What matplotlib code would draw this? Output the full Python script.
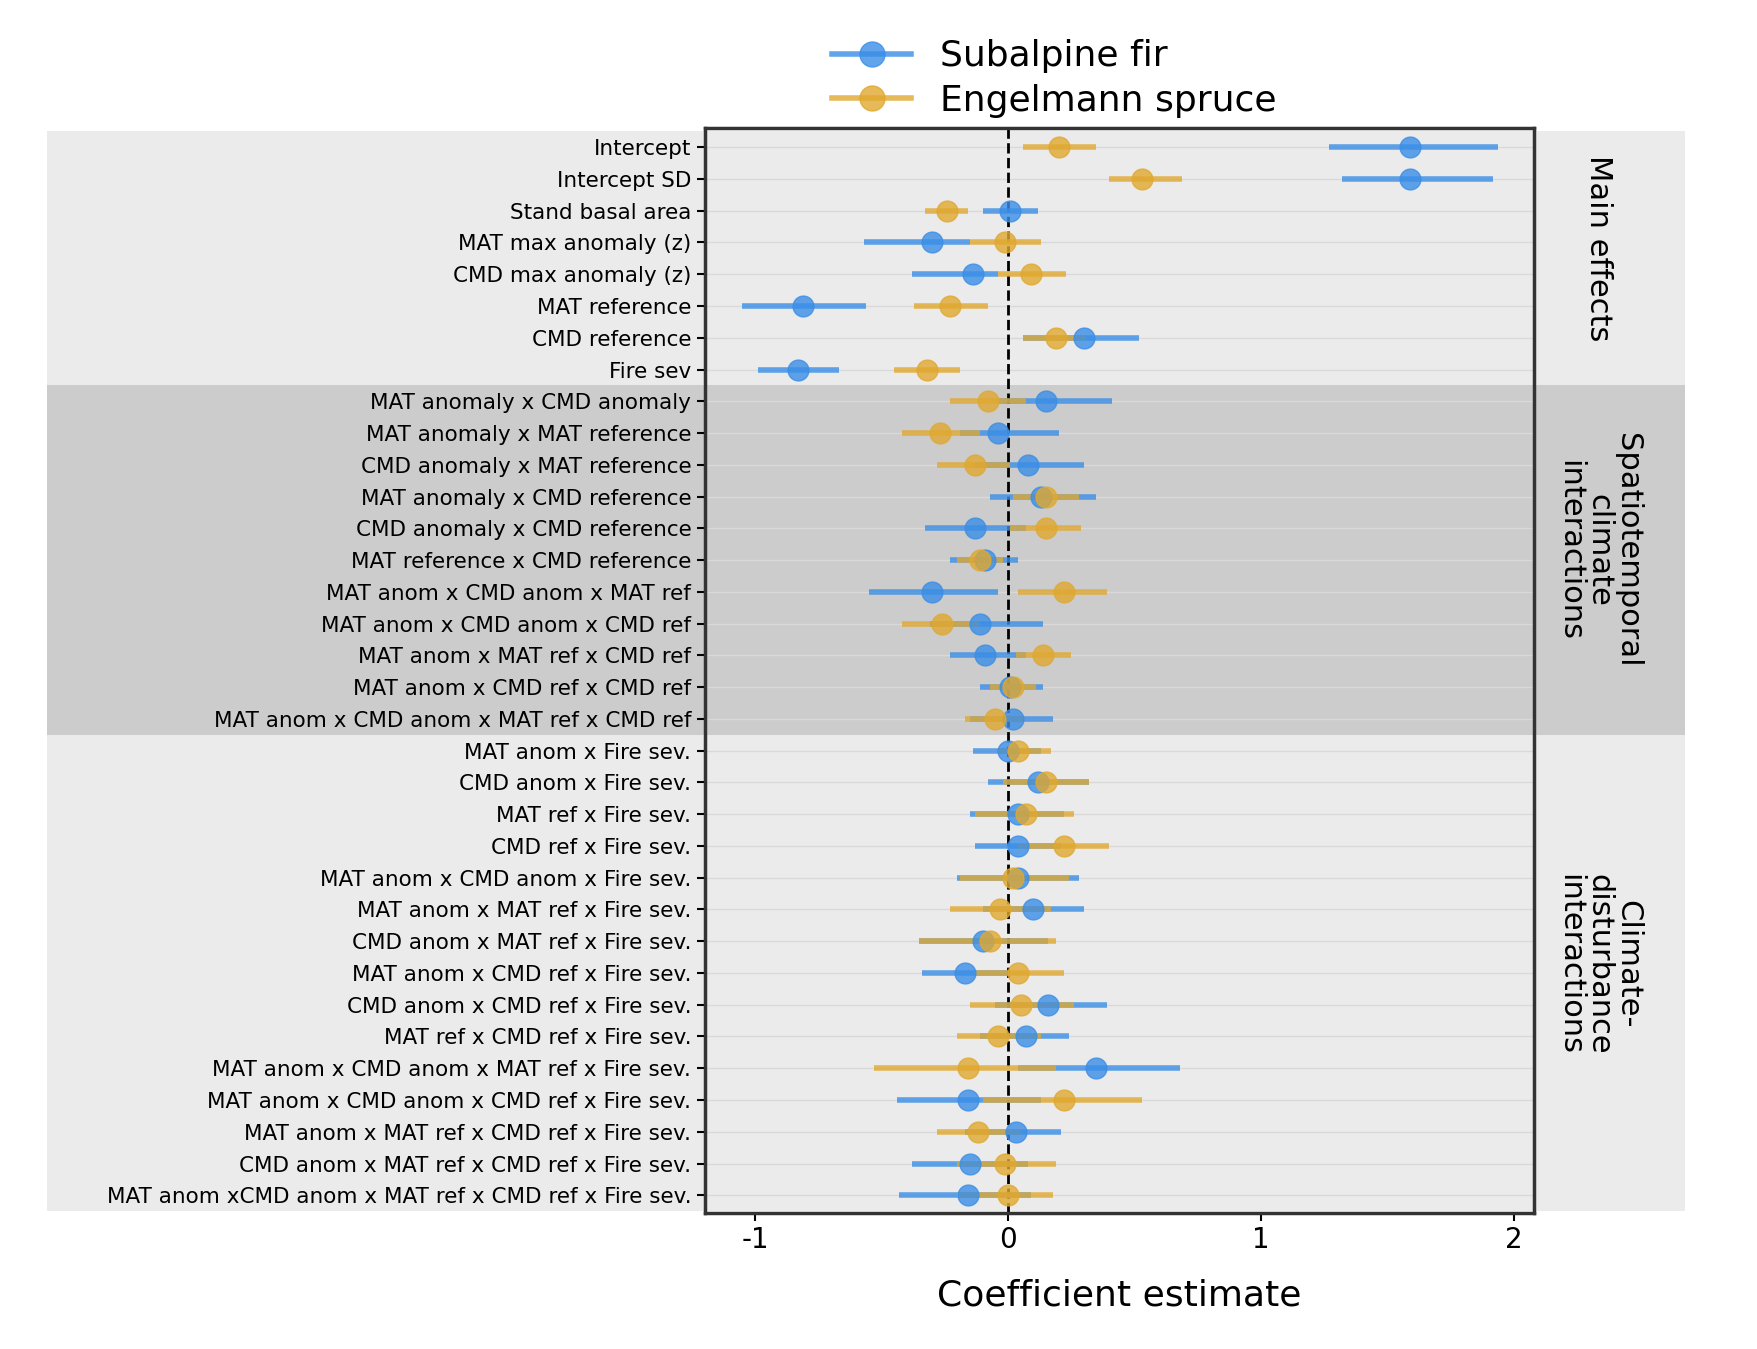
import numpy as np
import matplotlib
matplotlib.use("Agg")
import matplotlib.pyplot as plt
from matplotlib.patches import Rectangle
from matplotlib.transforms import blended_transform_factory

terms = ["Intercept", "Intercept SD", "Stand basal area", "MAT max anomaly (z)",
         "CMD max anomaly (z)", "MAT reference", "CMD reference", "Fire sev",
         "MAT anomaly x CMD anomaly", "MAT anomaly x MAT reference",
         "CMD anomaly x MAT reference", "MAT anomaly x CMD reference",
         "CMD anomaly x CMD reference", "MAT reference x CMD reference",
         "MAT anom x CMD anom x MAT ref", "MAT anom x CMD anom x CMD ref",
         "MAT anom x MAT ref x CMD ref", "MAT anom x CMD ref x CMD ref",
         "MAT anom x CMD anom x MAT ref x CMD ref",
         "MAT anom x Fire sev.", "CMD anom x Fire sev.", "MAT ref x Fire sev.",
         "CMD ref x Fire sev.", "MAT anom x CMD anom x Fire sev.",
         "MAT anom x MAT ref x Fire sev.", "CMD anom x MAT ref x Fire sev.",
         "MAT anom x CMD ref x Fire sev.", "CMD anom x CMD ref x Fire sev.",
         "MAT ref x CMD ref x Fire sev.", "MAT anom x CMD anom x MAT ref x Fire sev.",
         "MAT anom x CMD anom x CMD ref x Fire sev.", "MAT anom x MAT ref x CMD ref x Fire sev.",
         "CMD anom x MAT ref x CMD ref x Fire sev.",
         "MAT anom xCMD anom x MAT ref x CMD ref x Fire sev."]

fir_est = [1.59, 1.59, 0.01, -0.30, -0.14, -0.81, 0.30, -0.83,
           0.15, -0.04, 0.08, 0.13, -0.13, -0.09, -0.30, -0.11, -0.09, 0.01, 0.02,
           0.00, 0.12, 0.04, 0.04, 0.04, 0.10, -0.10, -0.17, 0.16, 0.07, 0.35, -0.16, 0.03, -0.15, -0.16]
fir_lo = [1.27, 1.32, -0.10, -0.57, -0.38, -1.05, 0.06, -0.99,
          -0.04, -0.19, -0.13, -0.07, -0.33, -0.23, -0.55, -0.31, -0.23, -0.11, -0.15,
          -0.14, -0.08, -0.15, -0.13, -0.20, -0.10, -0.35, -0.34, -0.05, -0.11, 0.04, -0.44, -0.17, -0.38, -0.43]
fir_hi = [1.94, 1.92, 0.12, -0.15, -0.04, -0.56, 0.52, -0.67,
          0.41, 0.20, 0.30, 0.35, 0.07, 0.04, -0.04, 0.14, 0.07, 0.14, 0.18,
          0.13, 0.32, 0.22, 0.21, 0.28, 0.30, 0.16, 0.01, 0.39, 0.24, 0.68, 0.13, 0.21, 0.08, 0.09]

spr_est = [0.20, 0.53, -0.24, -0.01, 0.09, -0.23, 0.19, -0.32,
           -0.08, -0.27, -0.13, 0.15, 0.15, -0.11, 0.22, -0.26, 0.14, 0.02, -0.05,
           0.04, 0.15, 0.07, 0.22, 0.02, -0.03, -0.07, 0.04, 0.05, -0.04, -0.16, 0.22, -0.12, -0.01, 0.00]
spr_lo = [0.06, 0.40, -0.33, -0.15, -0.04, -0.37, 0.06, -0.45,
          -0.23, -0.42, -0.28, 0.02, 0.01, -0.20, 0.04, -0.42, 0.03, -0.07, -0.17,
          -0.04, -0.02, -0.13, 0.04, -0.19, -0.23, -0.35, -0.13, -0.15, -0.20, -0.53, -0.10, -0.28, -0.20, -0.20]
spr_hi = [0.35, 0.69, -0.16, 0.13, 0.23, -0.08, 0.31, -0.19,
          0.07, -0.11, 0.01, 0.28, 0.29, -0.02, 0.39, -0.11, 0.25, 0.11, 0.06,
          0.17, 0.32, 0.26, 0.40, 0.24, 0.17, 0.19, 0.22, 0.26, 0.13, 0.19, 0.53, 0.05, 0.19, 0.18]

groups = [("Main effects", 0, 8), ("Spatiotemporal\nclimate\ninteractions", 8, 19),
          ("Climate-\ndisturbance\ninteractions", 19, 34)]
group_colors = ["#ebebeb", "#cccccc", "#ebebeb"]

blue = "#3a8ee6"
gold = "#e0a830"

fig = plt.figure(figsize=(17.57, 13.49), dpi=100)
ax = fig.add_axes([0.401, 0.101, 0.472, 0.804])
ax.set_facecolor("none")
y = np.arange(len(terms))

trans = blended_transform_factory(fig.transFigure, ax.transData)
for (name, a, b), c in zip(groups, group_colors):
    fig.add_artist(Rectangle((0.027, a - 0.5), 0.932, b - a, transform=trans,
                             facecolor=c, edgecolor="none", zorder=-1))
    fig.text(0.91, 1 - (0.095 + 0.804 * ((a + b) / 2) / 34.1) + 0.005, name,
             rotation=-90, ha="center", va="center", fontsize=22, linespacing=1.0)

for yy in y:
    ax.axhline(yy, color="#d9d9d9", lw=1, zorder=0)

ax.hlines(y, fir_lo, fir_hi, color=blue, lw=4, alpha=0.8, zorder=2)
ax.plot(fir_est, y, "o", color=blue, ms=15, alpha=0.8, zorder=3)
ax.hlines(y, spr_lo, spr_hi, color=gold, lw=4, alpha=0.8, zorder=2)
ax.plot(spr_est, y, "o", color=gold, ms=15, alpha=0.8, zorder=3)
ax.axvline(0, color="black", ls="--", lw=2, zorder=1)

ax.set_ylim(len(terms) - 0.5 + 0.05, -0.6)
ax.set_xlim(-1.2, 2.08)
ax.set_yticks(y)
ax.set_yticklabels(terms, fontsize=15.5)
ax.set_xticks([-1, 0, 1, 2])
ax.set_xticklabels(["-1", "0", "1", "2"], fontsize=20)
ax.tick_params(axis="both", length=6, width=1.5)
for s in ax.spines.values():
    s.set_linewidth(2.5)
    s.set_color("#333333")
ax.set_xlabel("Coefficient estimate", fontsize=26, labelpad=18)

from matplotlib.lines import Line2D
handles = [Line2D([], [], color=blue, lw=4, marker="o", ms=18, alpha=0.8),
           Line2D([], [], color=gold, lw=4, marker="o", ms=18, alpha=0.8)]
fig.legend(handles, ["Subalpine fir", "Engelmann spruce"], loc="upper center",
           bbox_to_anchor=(0.6, 0.995), frameon=False, fontsize=26,
           handlelength=2.2, labelspacing=0.3)

fig.savefig("out.png", dpi=100)
